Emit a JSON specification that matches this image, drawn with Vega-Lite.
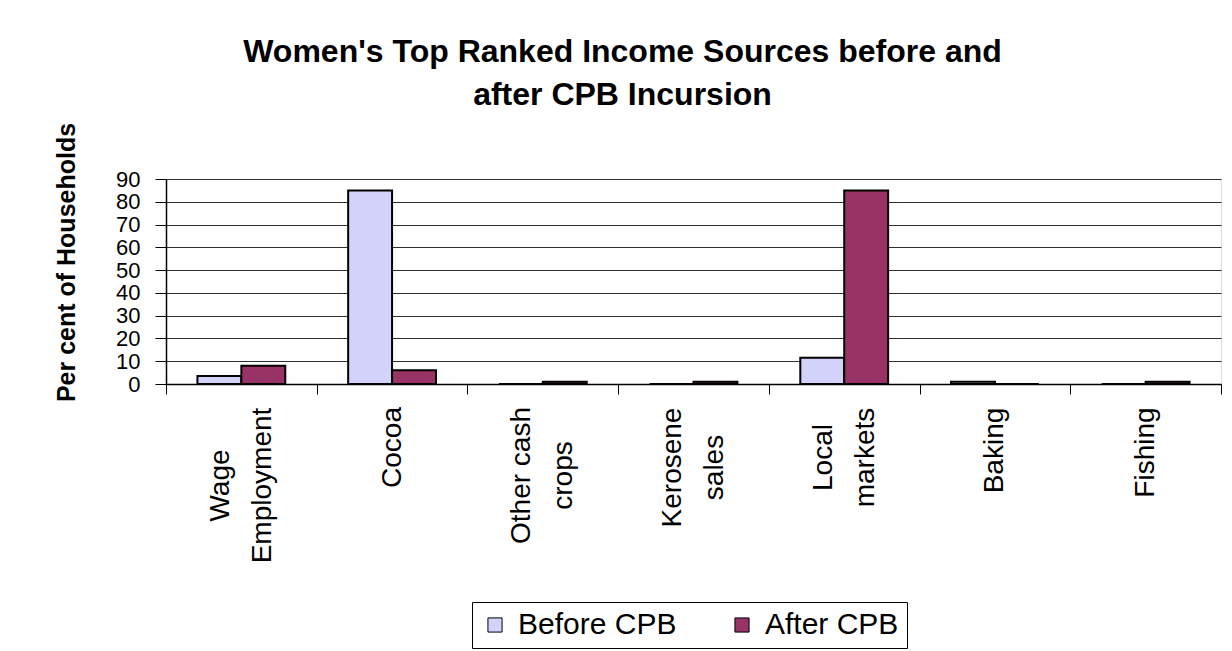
{
  "$schema": "https://vega.github.io/schema/vega-lite/v6.json",
  "width": 1055,
  "height": 205,
  "autosize": {"type": "none"},
  "padding": {"left": 166, "top": 179, "right": 11, "bottom": 267},
  "background": "white",
  "title": {
    "text": ["Women's Top Ranked Income Sources before and", "after CPB Incursion"],
    "font": "Liberation Sans",
    "fontSize": 32,
    "fontWeight": "bold",
    "lineHeight": 43,
    "color": "black",
    "anchor": "middle",
    "dx": -71,
    "offset": 10
  },
  "data": {
    "values": [
      {"source": "Wage Employment", "period": "Before CPB", "pct": 3.5},
      {"source": "Wage Employment", "period": "After CPB", "pct": 8},
      {"source": "Cocoa", "period": "Before CPB", "pct": 85},
      {"source": "Cocoa", "period": "After CPB", "pct": 6},
      {"source": "Other cash crops", "period": "Before CPB", "pct": 0},
      {"source": "Other cash crops", "period": "After CPB", "pct": 1},
      {"source": "Kerosene sales", "period": "Before CPB", "pct": 0},
      {"source": "Kerosene sales", "period": "After CPB", "pct": 1},
      {"source": "Local markets", "period": "Before CPB", "pct": 11.5},
      {"source": "Local markets", "period": "After CPB", "pct": 85},
      {"source": "Baking", "period": "Before CPB", "pct": 1},
      {"source": "Baking", "period": "After CPB", "pct": 0},
      {"source": "Fishing", "period": "Before CPB", "pct": 0},
      {"source": "Fishing", "period": "After CPB", "pct": 1}
    ]
  },
  "mark": {"type": "bar", "stroke": "black", "strokeWidth": 2},
  "encoding": {
    "x": {
      "field": "source",
      "type": "nominal",
      "sort": ["Wage Employment", "Cocoa", "Other cash crops", "Kerosene sales", "Local markets", "Baking", "Fishing"],
      "scale": {"paddingInner": 0, "paddingOuter": 0},
      "axis": {
        "title": null,
        "labelAngle": -90,
        "labelAlign": "center",
        "labelBaseline": "middle",
        "labelFont": "Liberation Sans",
        "labelFontSize": 28,
        "labelLineHeight": 42,
        "labelColor": "black",
        "labelLimit": 0,
        "labelOverlap": false,
        "labelExpr": "datum.value == 'Wage Employment' ? ['Wage', 'Employment'] : datum.value == 'Other cash crops' ? ['Other cash', 'crops'] : datum.value == 'Kerosene sales' ? ['Kerosene', 'sales'] : datum.value == 'Local markets' ? ['Local', 'markets'] : datum.label",
        "labelOffset": {
          "condition": {"test": "datum.value == 'Cocoa' || datum.value == 'Baking' || datum.value == 'Fishing'", "value": 0},
          "value": -21
        },
        "labelPadding": {
          "condition": [
            {"test": "datum.value == 'Wage Employment'", "value": 91},
            {"test": "datum.value == 'Cocoa'", "value": 53},
            {"test": "datum.value == 'Other cash crops'", "value": 81},
            {"test": "datum.value == 'Kerosene sales'", "value": 73},
            {"test": "datum.value == 'Local markets'", "value": 63},
            {"test": "datum.value == 'Baking'", "value": 56}
          ],
          "value": 58
        },
        "tickBand": "extent",
        "tickSize": 10,
        "tickColor": "black",
        "domainColor": "black",
        "domainWidth": 1.5,
        "grid": false
      }
    },
    "xOffset": {
      "field": "period",
      "type": "nominal",
      "sort": ["Before CPB", "After CPB"],
      "scale": {"paddingInner": 0, "paddingOuter": 0.716}
    },
    "y": {
      "field": "pct",
      "type": "quantitative",
      "scale": {"domain": [0, 90], "nice": false},
      "axis": {
        "values": [0, 10, 20, 30, 40, 50, 60, 70, 80, 90],
        "title": "Per cent of Households",
        "titleFont": "Liberation Sans",
        "titleFontSize": 25,
        "titleFontWeight": "bold",
        "titleColor": "black",
        "titleY": 83,
        "titlePadding": 36,
        "labelFont": "Liberation Sans",
        "labelFontSize": 22,
        "labelColor": "black",
        "labelPadding": 15,
        "labelOverlap": false,
        "labelBound": false,
        "labelFlush": false,
        "tickSize": 11,
        "tickColor": "black",
        "domainColor": "black",
        "domainWidth": 1.5,
        "gridColor": "#303030",
        "gridWidth": 1
      }
    },
    "color": {
      "field": "period",
      "type": "nominal",
      "scale": {"domain": ["Before CPB", "After CPB"], "range": ["#d2d2fa", "#993366"]},
      "legend": {
        "title": null,
        "orient": "none",
        "legendX": 306,
        "legendY": 423,
        "direction": "horizontal",
        "strokeColor": "black",
        "fillColor": "white",
        "padding": 8,
        "labelFont": "Liberation Sans",
        "labelFontSize": 30,
        "labelColor": "black",
        "labelOffset": 8,
        "columnPadding": 50,
        "symbolType": "square",
        "symbolSize": 200,
        "symbolStrokeColor": "black",
        "symbolStrokeWidth": 1,
        "symbolOpacity": 1
      }
    }
  }
}
